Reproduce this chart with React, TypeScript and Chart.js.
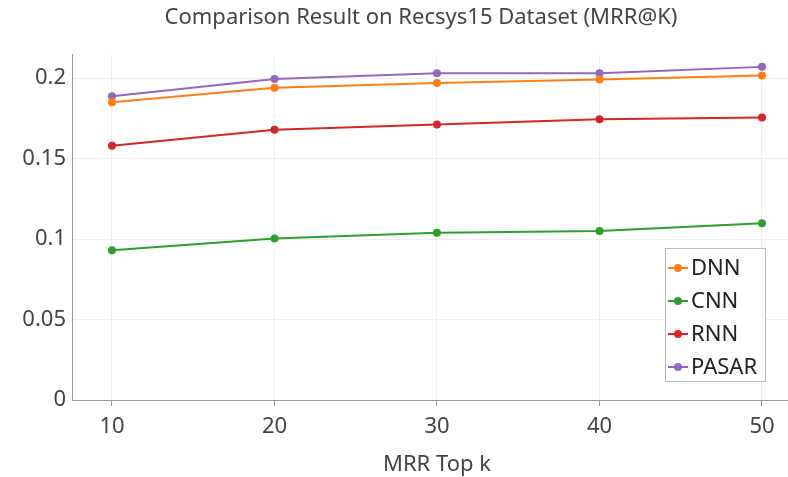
import React, { useEffect, useRef } from "react";
import { Chart, registerables } from "chart.js";

Chart.register(...registerables);

const titleText = "Comparison Result on Recsys15 Dataset (MRR@K)";
const xTitle = "MRR Top k";
const kValues = [10, 20, 30, 40, 50];
const seriesNames = ["DNN", "CNN", "RNN", "PASAR"];
const seriesColors = ["#ff7f0e", "#2ca02c", "#d62728", "#9467bd"];
const dnn = [0.185, 0.194, 0.197, 0.1992, 0.2017];
const cnn = [0.093, 0.1004, 0.1039, 0.105, 0.1099];
const rnn = [0.158, 0.1679, 0.1712, 0.1745, 0.1756];
const pasar = [0.1888, 0.1994, 0.203, 0.2031, 0.207];
const yTicks = [0, 0.05, 0.1, 0.15, 0.2];

const FONT = "'Noto Sans', sans-serif";

export default function App() {
  const ref = useRef<HTMLCanvasElement | null>(null);
  useEffect(() => {
    document.body.style.margin = "0";
    const seriesValues = [dnn, cnn, rnn, pasar];
    const datasets = seriesNames.map((name, i) => ({
      label: name,
      data: kValues.map((k, j) => ({ x: k, y: seriesValues[i][j] })),
      borderColor: seriesColors[i],
      backgroundColor: seriesColors[i],
      borderWidth: 2,
      pointRadius: 4,
      pointBorderWidth: 0,
      pointHoverRadius: 4,
      tension: 0,
    }));

    const overlay = {
      id: "overlay",
      afterDraw(chart: any) {
        const ctx = chart.ctx as CanvasRenderingContext2D;
        ctx.save();
        ctx.fillStyle = "#444";
        ctx.font = `22px ${FONT}`;
        ctx.textAlign = "center";
        ctx.textBaseline = "middle";
        ctx.fillText(titleText, 421, 18);
        ctx.fillText(xTitle, 437, 465);
        const bx = 665, by = 248, bw = 100, bh = 133;
        ctx.fillStyle = "#fff";
        ctx.fillRect(bx, by, bw, bh);
        ctx.strokeStyle = "#bbb";
        ctx.lineWidth = 1;
        ctx.strokeRect(bx + 0.5, by + 0.5, bw, bh);
        ctx.textAlign = "left";
        ctx.font = `22px ${FONT}`;
        chart.data.datasets.forEach((ds: any, i: number) => {
          const cy = 268 + i * 33;
          ctx.strokeStyle = ds.borderColor;
          ctx.lineWidth = 2;
          ctx.beginPath();
          ctx.moveTo(bx + 3, cy);
          ctx.lineTo(bx + 23, cy);
          ctx.stroke();
          ctx.fillStyle = ds.borderColor;
          ctx.beginPath();
          ctx.arc(bx + 13, cy, 4, 0, Math.PI * 2);
          ctx.fill();
          ctx.fillStyle = "#222";
          ctx.fillText(ds.label, bx + 26, cy + 1);
        });
        ctx.restore();
      },
    };

    const chart = new Chart(ref.current as HTMLCanvasElement, {
      type: "line",
      data: { datasets },
      plugins: [overlay],
      options: {
        animation: false,
        responsive: false,
        maintainAspectRatio: false,
        layout: { autoPadding: false, padding: { top: 54, right: 0, left: 0, bottom: 0 } },
        plugins: {
          legend: { display: false },
          title: { display: false },
          tooltip: { enabled: false },
        },
        scales: {
          x: {
            type: "linear",
            min: 7.54,
            max: 51.6,
            afterBuildTicks(scale: any) {
              scale.ticks = kValues.map((v) => ({ value: v }));
            },
            afterFit(scale: any) {
              scale.height = 77;
              scale.paddingRight = 0;
            },
            ticks: {
              color: "#444",
              font: { family: FONT, size: 22 },
              padding: 8,
              maxRotation: 0,
            },
            grid: {
              color: "#eeeeee",
              tickColor: "#999",
              tickLength: 6,
              drawTicks: true,
            },
            border: { color: "#999", width: 1 },
          },
          y: {
            min: 0,
            max: 0.215,
            afterBuildTicks(scale: any) {
              scale.ticks = yTicks.map((v) => ({ value: v }));
            },
            afterFit(scale: any) {
              scale.width = 72;
            },
            ticks: {
              color: "#444",
              font: { family: FONT, size: 22 },
              padding: 6,
              callback: (v: any) => String(Number(v)),
            },
            grid: { color: "#eeeeee", drawTicks: false },
            border: { color: "#999", width: 1 },
          },
        },
      },
    });
    return () => chart.destroy();
  }, []);

  return (
    <div style={{ position: "absolute", left: 0, top: 0, width: 788, height: 477, overflow: "hidden" }}>
      <canvas ref={ref} width={788} height={477} style={{ width: 788, height: 477 }} />
    </div>
  );
}
